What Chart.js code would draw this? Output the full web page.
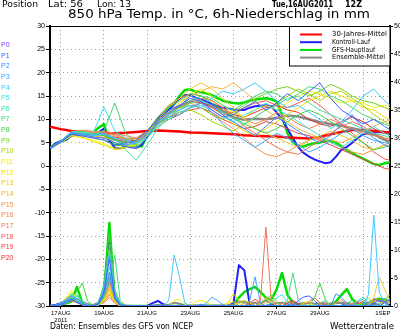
<!DOCTYPE html>
<html lang="de">
<head>
<meta charset="UTF-8">
<title>850 hPa Temp. / 6h-Niederschlag</title>
<script src="https://cdn.jsdelivr.net/npm/chart.js@4"></script>
<style>
  body { margin: 0; background: #fff; }
  canvas { display: block; }
</style>
</head>
<body>
<canvas id="ens" width="400" height="333"></canvas>
<script>
// forecast hours from 16AUG2011 12Z
const hours6 = Array.from({ length: 65 }, (_, i) => i * 6);
const hours12 = Array.from({ length: 33 }, (_, i) => i * 12);

// x-axis ticks (hours) and their labels
const tickHours = [12, 60, 108, 156, 204, 252, 300, 348, 370];
const tickLabels = [['17AUG', '2011'], '19AUG', '21AUG', '23AUG', '25AUG', '27AUG', '29AUG', '', '1SEP'];

// 850 hPa temperature, 6-hourly
const mainTemp = [
  3.8, 4.8, 5.3, 5.6, 6.6, 7.4, 7.2, 6.8, 7.2, 8.2, 9.0, 5.2, 4.5,
  4.6, 5.6, 5.0, 4.4, 4.2, 6.5, 8.2, 10.2, 11.2, 12.5, 13.4, 15.0, 16.3,
  16.4, 15.9, 15.8, 15.6, 15.2, 14.6, 14.0, 13.7, 13.5, 13.4, 13.6, 14.0, 14.2,
  14.4, 14.5, 14.3, 13.8, 11.0, 7.0, 5.2, 4.3, 4.2, 4.6, 4.9, 5.0, 5.4,
  5.4, 5.0, 4.2, 3.4, 2.8, 2.1, 1.6, 1.0, 0.4, 0.2, 0.6, 0.8, 0.8
];
const controlTemp = [
  3.8, 4.8, 5.3, 5.6, 6.6, 7.4, 7.0, 6.6, 6.5, 7.2, 8.0, 5.5, 3.9,
  3.8, 4.2, 4.0, 3.9, 4.6, 6.5, 8.5, 10.0, 11.2, 12.0, 13.2, 14.5, 15.2,
  15.2, 14.6, 14.3, 13.8, 13.3, 12.8, 12.5, 12.3, 12.1, 12.0, 12.0, 12.5, 12.8,
  12.9, 13.0, 12.8, 11.5, 10.0, 8.0, 6.0, 4.0, 2.8, 2.0, 1.4, 1.0, 0.6,
  0.8, 2.0, 3.5, 4.1, 5.0, 6.0, 6.8, 7.0, 7.2, 7.3, 7.2, 7.1, 7.0
];

// 12-hourly: ensemble mean and 30-year mean
const meanTemp = [3.8, 5.2, 6.5, 6.9, 6.6, 6.8, 5.8, 5.2, 5.3, 6.9, 9.2, 11.2, 12.8, 13.8, 13.6, 12.8, 11.6,
  10.4, 9.9, 10.1, 10.0, 10.3, 10.8, 10.6, 10.0, 9.4, 9.0, 8.6, 8.1, 7.5, 6.8, 5.6, 4.6];
const climTemp = [8.4, 7.9, 7.5, 7.2, 7.0, 7.0, 7.0, 7.1, 7.3, 7.5, 7.6, 7.5, 7.4, 7.2, 7.1, 7.0, 6.9,
  6.8, 6.6, 6.5, 6.4, 6.3, 6.1, 6.0, 5.9, 6.2, 6.8, 7.3, 7.7, 7.7, 7.5, 7.3, 7.2];

// members P1..P20, 12-hourly
const memberTemp = [
  [3.8,5.1,6.8,6.4,6.0,5.6,4.5,4.8,5.5,7.5,10.0,12.0,13.0,14.5,13.8,12.0,10.5,11.0,12.5,13.8,12.0,13.5,15.5,14.0,16.0,17.8,14.5,12.0,10.5,9.0,10.0,8.5,7.0],
  [3.8,5.3,7.0,6.8,6.2,6.0,5.0,4.2,3.8,6.0,9.5,11.5,12.8,15.0,14.2,13.0,11.0,9.5,8.0,6.5,8.5,10.5,9.0,7.5,6.0,5.0,6.5,9.0,11.0,8.0,6.0,4.5,3.5],
  [3.8,5.2,7.2,6.6,6.8,7.0,5.5,4.5,5.0,7.0,9.0,10.5,11.0,12.5,13.5,11.5,9.0,7.0,5.5,4.0,5.5,7.0,6.0,4.5,3.0,4.0,5.5,7.0,8.0,6.5,5.5,5.0,4.5],
  [3.8,5.0,6.9,7.0,6.5,6.8,6.0,5.5,4.8,6.5,9.5,11.0,12.0,13.0,12.5,14.5,16.0,15.5,16.5,17.8,16.0,14.0,12.5,13.0,11.5,10.0,8.0,9.5,12.0,15.0,16.5,14.0,12.0],
  [3.8,5.3,7.4,7.2,7.0,12.7,7.5,6.0,4.5,6.0,8.5,10.0,11.5,12.5,13.0,12.0,10.5,9.5,11.0,12.0,13.5,12.0,11.0,9.5,8.0,6.5,5.0,4.0,5.5,7.0,8.5,7.0,6.0],
  [3.8,5.2,7.0,6.8,6.5,7.0,6.0,3.5,1.3,4.5,8.0,10.5,12.0,13.5,14.0,13.0,11.5,10.0,9.0,10.5,12.0,13.0,14.5,15.0,13.5,12.0,11.0,10.0,9.0,8.0,7.0,6.5,5.5],
  [3.8,5.2,7.1,7.0,6.6,7.5,13.5,7.0,5.0,6.0,9.0,11.0,13.0,14.0,15.0,14.5,13.0,12.0,13.5,15.0,16.0,15.5,14.0,15.5,17.0,16.5,15.0,14.0,12.5,11.0,10.0,9.0,8.0],
  [3.8,5.4,7.3,7.4,7.0,6.5,5.5,5.0,5.5,7.5,10.5,12.5,14.0,15.5,15.0,13.5,12.0,10.5,9.0,8.0,7.0,8.0,9.5,11.0,12.0,11.0,9.5,8.0,6.5,5.0,3.5,4.0,5.0],
  [3.8,5.1,6.7,6.5,6.0,5.5,4.5,4.5,5.0,7.0,9.5,11.0,12.5,13.0,12.5,11.0,10.0,11.5,13.0,14.5,15.5,16.5,17.0,16.0,15.0,16.0,17.5,16.5,15.0,14.0,13.5,12.5,11.5],
  [3.8,5.3,7.0,7.0,6.8,6.5,5.0,4.5,4.0,6.0,8.5,10.0,11.5,12.0,11.0,9.5,8.5,7.5,9.0,10.5,12.0,13.5,15.0,16.5,15.5,14.0,15.5,16.0,14.5,13.0,11.0,9.5,8.0],
  [3.8,5.0,6.5,6.0,5.5,4.8,3.8,4.0,4.5,6.5,9.0,11.5,13.5,15.5,16.5,15.0,13.0,11.5,10.5,12.0,13.0,12.0,13.5,15.0,16.0,15.5,14.5,13.5,14.0,13.5,12.5,13.0,12.0],
  [3.8,5.0,6.6,6.2,5.2,4.5,3.5,3.8,4.8,6.5,8.5,10.5,12.0,13.5,14.0,13.0,11.0,9.0,7.5,6.5,8.0,9.5,11.0,12.5,14.0,15.0,16.0,15.0,14.0,12.5,12.0,10.5,9.5],
  [3.8,5.2,6.8,6.7,6.4,6.2,5.5,5.0,5.2,7.0,10.0,12.5,14.5,16.5,17.8,16.5,14.5,12.5,10.0,8.0,7.0,6.0,5.0,4.0,5.5,6.5,7.5,6.5,5.5,4.0,3.5,4.5,5.5],
  [3.8,5.3,7.2,7.3,7.0,6.8,6.0,5.5,5.0,6.5,9.0,11.5,13.5,15.0,16.0,17.0,16.5,17.8,16.0,14.0,12.0,10.5,9.5,8.0,7.0,6.0,5.5,5.0,6.0,7.5,8.5,9.5,10.0],
  [3.8,5.2,7.4,7.5,7.3,7.0,6.5,5.8,5.5,7.0,9.5,11.5,12.5,13.5,12.5,11.0,9.5,8.0,6.0,4.0,2.5,2.0,3.0,4.5,5.5,6.0,5.0,4.0,3.0,2.5,3.5,4.5,5.5],
  [3.8,5.1,6.9,7.0,7.2,7.5,7.0,6.5,6.0,7.5,10.5,13.0,14.5,15.5,15.0,14.0,12.5,11.0,10.0,9.0,10.0,11.5,10.5,9.0,8.0,9.0,10.0,9.0,8.0,7.0,6.5,6.0,5.5],
  [3.8,5.3,7.3,7.7,7.4,7.2,6.8,6.0,5.8,7.0,9.0,11.0,12.0,13.5,14.5,14.0,12.5,10.5,8.5,7.0,5.5,4.0,3.0,2.5,4.0,5.5,7.0,8.5,9.5,8.5,7.0,6.0,4.5],
  [3.8,5.2,7.0,7.2,6.9,6.5,5.8,5.5,6.0,7.5,10.0,11.5,13.0,14.0,13.5,12.5,11.0,11.5,12.5,13.5,14.0,13.0,12.5,13.5,14.5,13.0,11.0,9.0,7.0,5.0,3.0,1.5,1.0],
  [3.8,5.0,6.7,6.9,6.6,6.0,5.5,5.0,5.2,6.8,9.0,10.5,11.5,12.0,12.5,11.5,10.0,9.0,8.0,8.5,9.5,9.0,8.0,7.0,6.5,5.5,4.5,3.5,2.5,1.5,0.5,-0.5,-1.0],
  [3.8,5.3,7.1,7.3,7.0,6.7,6.2,5.8,5.3,6.5,8.5,10.0,11.0,12.5,13.5,13.0,12.0,11.0,10.5,11.5,12.5,13.0,12.0,11.5,10.0,9.0,8.5,9.5,10.5,9.5,8.0,7.0,6.0]
];

// 6h precipitation (mm), 6-hourly
const mainPrecip = [
  0, 0.1, 0.3, 0.5, 0.8, 3.4, 0.5, 0.1, 0, 0.3, 2.0, 14.8, 1.0,
  0.2, 0, 0, 0, 0, 0, 0, 0, 0, 0, 0, 0, 0,
  0, 0, 0, 0, 0, 0, 0, 0, 0.3, 1.5, 2.5, 3.0, 3.4,
  2.5, 1.5, 1.1, 3.0, 5.9, 2.0, 0.6, 0.2, 0, 0, 0, 0, 0,
  0.2, 0.8, 2.0, 3.0, 1.2, 0.5, 0.3, 0.5, 1.0, 1.3, 1.1, 0.8, 0.8
];
const controlPrecip = [
  0, 0.2, 0.5, 1.0, 1.6, 0.8, 0.3, 0, 0, 0.5, 3.0, 11.2, 2.0,
  0.2, 0, 0, 0, 0, 0, 0.5, 0.9, 0.3, 0, 0, 0, 0,
  0, 0, 0, 0, 0, 0, 0, 0, 0.5, 7.3, 6.4, 0.3, 0,
  0, 0, 0.3, 0, 0, 0, 0.5, 0.3, 0, 0, 0, 0, 0,
  0, 0, 0, 0.5, 0, 0, 0, 0, 0.5, 0, 0.8, 1.0, 0.8
];
const meanPrecip = [
  0, 0.1, 0.4, 0.8, 1.2, 1.0, 0.8, 0.3, 0.2, 0.6, 3.0, 5.0, 2.2,
  0.4, 0.1, 0, 0, 0, 0, 0.1, 0.2, 0.1, 0.2, 0.6, 0.4, 0.1,
  0.1, 0.1, 0.1, 0.1, 0.1, 0.1, 0.1, 0.1, 0.3, 0.8, 0.7, 0.4, 0.6,
  0.4, 1.0, 0.4, 0.5, 0.6, 0.4, 0.6, 0.4, 0.5, 0.6, 0.4, 0.5, 0.3,
  0.4, 0.5, 0.6, 0.5, 0.4, 0.5, 0.6, 0.5, 1.2, 0.9, 0.8, 0.7, 0.6
];
const memberPrecip = [
  [0,0,0.3,0.8,1.2,0.6,0.2,0,0,0.4,2.5,8.4,1.5, 0.2,0,0,0,0,0,0,0,0,0,0,0,0, 0,0,0,0,0,0,0,0,0,0,0,0,0, 0,0,0,0,0,0,0,1.0,1.6,1.8,1.0,0,0, 0,0,0,0,0,0,0,0,0.5,1.0,0.8,0,0],
  [0,0,0.2,0.5,1.0,1.4,0.5,0,0,0.3,2.0,6.0,1.2, 0,0,0,0,0,0,0,0,0,0,0,0,0, 0,0,0.3,0,0,0,0,0,0,0,0,0,0, 0,0,0,0,0,0,0,0,0,0,0,0,0, 0,2.2,1.5,0.5,0,0,0,0,0,0,0.6,1.2,0.8],
  [0,0.1,0.5,1.2,1.8,0.8,0.3,0,0,0.5,3.0,9.0,2.0, 0.3,0,0,0,0,0,0,0,0,0,0,0,0, 0,0,0,0.5,1.6,1.0,0.3,0,0,0,0,1.0,5.2, 0.5,0,0,0,0,0,0,0,0,0,0,0,0, 0,0,0,0,0,0.8,1.2,0,0,0,0,0,0],
  [0,0,0.3,0.9,1.5,1.0,0.4,0.1,0,0.4,2.2,5.0,1.5, 0.2,0,0,0,0,0,0,0,0,1.0,9.1,5.2,0.5, 0,0,0,0,0,0,0,0,0,0,0,0,0, 0,0,0,0,0,0,0,0,0,0,0,0,0, 0,0,0,0,0,0,0,2.0,16.2,2.5,0.5,0,0],
  [0,0,0.4,1.0,2.2,1.2,0.4,0,0,0.6,2.8,7.0,1.8, 0.2,0,0,0,0,0,0,0,0,0,0,0,0, 0,0,0,0,0,0,0,0,0,0,0,0,0, 0,0,0.5,1.5,2.0,0.6,0,0,0,0,0,0,0, 0,0,0,0,0,0,0,0,0,0,0,0.5,1.5],
  [0,0,0.2,0.6,1.0,2.0,0.8,0.2,0,0.3,3.5,10.0,2.5, 0.4,0,0,0,0,0,0,0,0,0,0,0,0, 0,0,0,0,0,0,0,0,0,0,0,0,0, 0,0,0,0,0,0,0,0,0,0,0,0.5,1.0, 0,0,0,0,0,0.8,1.6,0.6,0,0,0,0,0],
  [0,0,0.3,0.7,1.3,1.8,0.6,0.1,0,0.2,1.5,4.0,9.1, 1.0,0,0,0,0,0,0,0,0,0,0,0,0, 0,0,0,0,0,0,0,0,0,0,0,0,0, 0,0,0,0,0,1.0,5.9,1.0,0,0,0,0,0, 0,0,0,0.5,1.0,0,0,0,0,0,0,0,0],
  [0,0.1,0.5,1.2,2.0,2.5,4.1,0.8,0,0.5,4.0,13.0,3.0, 0.5,0,0,0,0,0,0,0,0,0,0,0,0, 0,0,0,0,0,0,0,0,0,0,0,0,0, 0,0,0,0,0,0,0,0,0,0,1.5,4.1,1.2, 0,0,0,0,0,0,0,0,0,0.5,1.2,2.0,1.0],
  [0,0,0.3,0.8,1.5,1.2,0.5,0,0,0.4,3.0,11.0,2.5, 0.3,0,0,0,0,0,0,0,0,0,0,0,0, 0,0,0,0,0,0,0,0,0,0,0,0,0, 0.4,1.2,2.0,0.8,0,0,0,0,0,0,0,0,0, 0.6,0,0,0,0,0,0,0,0,0,0,0,0],
  [0,0,0.2,0.6,1.2,0.8,0.3,0,0,0.3,2.0,6.0,1.5, 0.2,0,0,0,0,0,0,0,0,0,0,0,0, 0,0,0,0,0,0,0,0,0,0.4,1.0,0.5,0, 0,0,0,0,0,0,0,0,0,0,0,0,0, 0,0,0,0,0,0,0.8,1.5,0.5,0,0,0,0],
  [0,0,0.4,1.5,2.8,1.0,0.3,0,0,0.2,1.2,2.5,0.8, 0,0,0,0,0,0,0,0,0,0,1.0,1.2,0.3, 0,0.8,1.0,0.7,0,0,0,0.5,0.8,0,0,0,0, 0,0,0,0,0,0,0,0,0,0,0,0,0, 0,0,0,0,0,0,0,0,0,0,1.0,0.6,0],
  [0,0,0.3,1.2,2.3,0.9,0.2,0,0,0.2,1.0,3.0,1.0, 0.1,0,0,0,0,0,0,0,0,0,0,0,0, 0,0,0,0,0,0,0,0.6,2.2,1.0,0,0,0, 0,0,0,0,0,0,0,0,0.5,0.8,0,0,0, 0,0,0,0,0,0,0,0,0,0,0,0,1.2],
  [0,0,0.2,0.8,1.6,0.7,0.2,0,0,0.2,0.8,2.0,0.6, 0,0,0,0,0,0,0,0,0,0,0,0,0, 0,0,0,0,0,0,0,0,0,0,0,0,0, 0,0.5,0.8,0,0,0,0,0,0,0,0,0,0, 0,0,0,0,0,0,0,0,1.5,5.2,3.0,1.0,0],
  [0,0,0.3,0.9,1.8,1.2,0.4,0,0,0.3,1.5,4.0,1.2, 0.1,0,0,0,0,0,0,0,0,0,0,0,0, 0,0,0,0,0,0,0,0,0,0,0,0,0, 0.6,1.5,1.2,0.5,0,0,0,0,0,0,0,0,0, 0,0,0,0,0.5,0.9,0,0,0,0,0,0,0],
  [0,0,0.2,0.7,1.4,1.0,0.3,0,0,0.3,1.2,3.5,1.0, 0.1,0,0,0,0,0,0,0,0,0,0,0,0, 0,0,0,0,0,0,0,0,0,0,0.5,0.8,0, 0,0,0,0,0,0,0,0,0,0,0,0,0, 0,0.6,1.1,0.4,0,0,0,0,0,0,0,0,0],
  [0,0,0.3,1.0,1.9,0.8,0.2,0,0,0.2,1.0,2.5,0.7, 0,0,0,0,0,0,0,0,0,0,0,0,0, 0,0,0,0,0,0,0,0,0,0,0,0,0, 0,0,0,0,0.4,0.9,0.5,0,0,0,0,0,0, 0,0,0,0,0,0,0,0,0.8,1.3,0.6,0,0],
  [0,0,0.2,0.5,0.9,0.6,0.2,0,0,0.2,0.6,1.5,0.5, 0,0,0,0,0,0,0,0,0,0,0,0,0, 0,0,0,0,0,0,0,0,0,0,0,0,0, 1.0,14.1,1.0,0,0,0,0,0,0,0,0,0.5,0.7, 0,0,0,0,0,0,0,0,0,0,0,0,0],
  [0,0,0.3,0.8,1.5,1.0,0.3,0,0,0.2,1.2,3.0,0.9, 0.1,0,0,0,0,0,0,0,0,0,0,0,0, 0,0,0,0,0,0,0,0,0,0,0,0,0, 0,0,0,0,0,0,0,0,0,0.8,1.5,0.6,0, 0,0,0,0,0,0,0,0,0,0,0,0.9,1.4],
  [0,0,0.2,0.6,1.1,0.7,0.2,0,0,0.2,0.8,2.0,0.6, 0,0,0,0,0,0,0,0,0,0,0,0,0, 0,0,0,0,0,0,0,0,0,0,0,0.5,1.2, 0.6,0,0,0,0,0,0,0,0,0,0,0,0, 0,0,0,0,0,0.5,0.8,0,0,0,0,0,0],
  [0,0,0.3,0.9,1.7,1.1,0.3,0,0,0.3,1.6,4.5,1.2, 0.1,0,0,0,0,0,0,0,0,0,0,0,0, 0,0,0,0,0,0,0,0,0,0,0,0,0, 0,0,0,0,0,0.5,1.0,0.4,0,0,0,0,0, 0,0,0,0,0,0,0,0,0,0,0.7,1.1,0]
];

// label colours P0..P20
const pColors = ['#8040ff', '#4060ff', '#4088ff', '#40a8ff', '#40c8ff', '#40e0e8', '#40e0b0', '#40d878',
  '#40d040', '#78d020', '#a8d800', '#f0f000', '#f0dc00', '#f0c830', '#f0b040', '#f09848',
  '#f08448', '#f07458', '#f05a50', '#e84444', '#e03030'];

const legendItems = [
  ['30-Jahres-Mittel', '#ff0000', 55],
  ['Kontroll-Lauf', '#2020ff', 38],
  ['GFS-Hauptlauf', '#00dd00', 43],
  ['Ensemble-Mittel', '#888888', 53]
];

function pts(hours, values) {
  return values.map((v, i) => ({ x: hours[i], y: v }));
}

const datasets = [];
memberPrecip.forEach((vals, i) => {
  datasets.push({ data: pts(hours6, vals), yAxisID: 'y2', borderColor: pColors[i + 1], borderWidth: 1 });
});
memberTemp.forEach((vals, i) => {
  datasets.push({ data: pts(hours12, vals), yAxisID: 'y', borderColor: pColors[i + 1], borderWidth: 1 });
});
datasets.push({ data: pts(hours6, meanPrecip), yAxisID: 'y2', borderColor: '#888888', borderWidth: 2 });
datasets.push({ data: pts(hours12, meanTemp), yAxisID: 'y', borderColor: '#888888', borderWidth: 2.5 });
datasets.push({ data: pts(hours12, climTemp), yAxisID: 'y', borderColor: '#ff0000', borderWidth: 2.5 });
datasets.push({ data: pts(hours6, controlPrecip), yAxisID: 'y2', borderColor: '#2020ff', borderWidth: 2 });
datasets.push({ data: pts(hours6, controlTemp), yAxisID: 'y', borderColor: '#2020ff', borderWidth: 2 });
datasets.push({ data: pts(hours6, mainPrecip), yAxisID: 'y2', borderColor: '#00dd00', borderWidth: 2.5 });
datasets.push({ data: pts(hours6, mainTemp), yAxisID: 'y', borderColor: '#00dd00', borderWidth: 2.5 });

// draw text squeezed to a given width
function fitText(ctx, text, x, y, w, font, color) {
  ctx.save();
  ctx.font = font;
  const m = ctx.measureText(text).width;
  ctx.translate(x, y);
  ctx.scale(w / m, 1);
  ctx.fillStyle = color || '#000';
  ctx.textAlign = 'left';
  ctx.textBaseline = 'middle';
  ctx.fillText(text, 0, 0);
  ctx.restore();
}

const decor = {
  id: 'decor',
  afterDraw(chart) {
    const { ctx, chartArea: a } = chart;
    ctx.save();
    ctx.strokeStyle = '#000';
    ctx.lineWidth = 1;
    ctx.beginPath();
    ctx.moveTo(a.left, a.top + 0.5);
    ctx.lineTo(a.right, a.top + 0.5);
    ctx.stroke();

    // header and footer
    fitText(ctx, 'Position', 2, 5, 36, "8px 'DejaVu Sans'");
    fitText(ctx, 'Lat: 56', 48, 5, 35, "8px 'DejaVu Sans'");
    fitText(ctx, 'Lon: 13', 97, 5, 34, "8px 'DejaVu Sans'");
    fitText(ctx, 'Tue,16AUG2011', 272, 5, 61, "bold 8px 'DejaVu Sans'");
    fitText(ctx, '12Z', 345, 5, 17, "bold 8px 'DejaVu Sans'");
    fitText(ctx, '850 hPa Temp. in \u00b0C, 6h-Niederschlag in mm', 68, 15, 302, "13px 'DejaVu Sans'");
    fitText(ctx, 'Daten: Ensembles des GFS von NCEP', 50, 327, 143, "8px 'DejaVu Sans'");
    fitText(ctx, 'Wetterzentrale', 330, 327, 64, "9px 'DejaVu Sans'");

    // member labels
    pColors.forEach((c, i) => {
      ctx.font = "7px 'Liberation Sans'";
      ctx.fillStyle = c;
      ctx.textAlign = 'left';
      ctx.textBaseline = 'middle';
      ctx.fillText('P' + i, 1, 45 + i * 10.65);
    });

    // legend box
    const bx = 289, by = a.top, bh = 40;
    ctx.fillStyle = '#fff';
    ctx.fillRect(bx, by, a.right - bx, bh);
    ctx.strokeStyle = '#000';
    ctx.lineWidth = 1;
    ctx.strokeRect(bx + 0.5, by + 0.5, a.right - bx - 0.5, bh - 0.5);
    legendItems.forEach(([name, color, w], i) => {
      const y = by + 8.5 + i * 7.7;
      ctx.strokeStyle = color;
      ctx.lineWidth = 2;
      ctx.beginPath();
      ctx.moveTo(300, y);
      ctx.lineTo(322, y);
      ctx.stroke();
      fitText(ctx, name, 332, y, w, "7px 'DejaVu Sans'");
    });
    ctx.restore();
  }
};

const tickFont = { family: "'Liberation Sans', sans-serif", size: 7 };

new Chart(document.getElementById('ens').getContext('2d'), {
  type: 'line',
  data: { datasets: datasets },
  options: {
    responsive: false,
    animation: false,
    devicePixelRatio: 1,
    layout: { padding: { top: 26, left: 0, right: 0, bottom: 0 } },
    elements: { point: { radius: 0 }, line: { tension: 0, borderJoinStyle: 'round' } },
    plugins: { legend: { display: false }, tooltip: { enabled: false } },
    scales: {
      x: {
        type: 'linear',
        min: 0,
        max: 378,
        afterBuildTicks: (axis) => { axis.ticks = tickHours.map(v => ({ value: v })); },
        afterFit: (s) => { s.height = 27; },
        ticks: {
          autoSkip: false,
          maxRotation: 0,
          padding: 1,
          font: { family: "'Liberation Sans', sans-serif", size: 6, lineHeight: 1.1 },
          color: '#000',
          callback: (v) => { const k = tickHours.indexOf(v); return k >= 0 ? tickLabels[k] : ''; }
        },
        grid: {
          color: (c) => (c.tick && c.tick.value === 370 ? 'rgba(0,0,0,0)' : '#9a9a9a'),
          tickColor: '#000',
          tickLength: 3
        },
        border: { color: '#000', width: 2, dash: [1, 3] }
      },
      y: {
        position: 'left',
        min: -30,
        max: 30,
        afterFit: (s) => { s.width = 50; },
        ticks: { stepSize: 5, padding: 1, font: tickFont, color: '#000' },
        grid: { color: '#9a9a9a', tickColor: '#000', tickLength: 4 },
        border: { color: '#000', width: 2, dash: [1, 3] }
      },
      y2: {
        position: 'right',
        min: 0,
        max: 50,
        afterFit: (s) => { s.width = 10; },
        ticks: { stepSize: 5, padding: 1, font: tickFont, color: '#000' },
        grid: { drawOnChartArea: false, tickColor: '#000', tickLength: 3 },
        border: { color: '#000', width: 2 }
      }
    }
  },
  plugins: [decor]
});
</script>
</body>
</html>
